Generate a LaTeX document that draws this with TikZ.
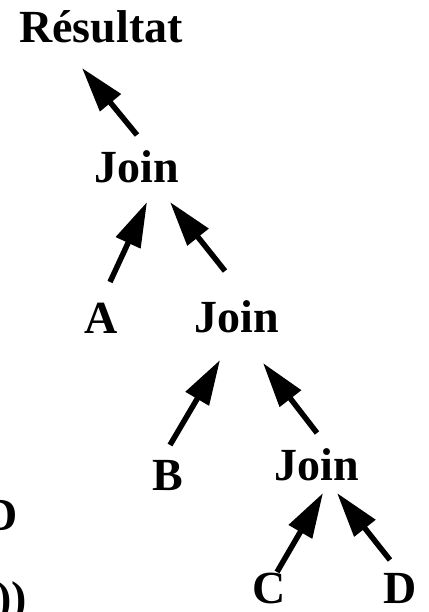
\documentclass[tikz,border=0pt]{standalone}
\usepackage{fontspec}
\setmainfont{Liberation Serif}
\usetikzlibrary{arrows.meta}

\begin{document}
\begin{tikzpicture}[x=1pt,y=-1pt,term/.style={inner sep=0pt,anchor=base,font=\fontsize{46}{54}\selectfont\bfseries},flow/.style={line width=5.5pt,-{Triangle[length=45pt,width=26pt]}}]
\useasboundingbox[fill=white] (0,0) rectangle (428,612);
\node[term] (res) at (101,43) {Résultat};
\node[term] (join1) at (136.5,183) {Join};
\node[term] (A) at (101,333) {A};
\node[term] (join2) at (236.5,332) {Join};
\node[term] (B) at (167.5,490) {B};
\node[term] (join3) at (316.5,480) {Join};
\node[term] (C) at (269,603) {C};
\node[term] (D) at (400,603) {D};
\node[term,anchor=base east] (cutD) at (18,530) {D};
\node[term,anchor=base east] (cutpar) at (27,613) {))};
\draw[flow] ([shift={(0.5,-48)}]join1.base) -- ([shift={(-19,25)}]res.base);
\draw[flow] ([shift={(9,-51)}]A.base) -- ([shift={(10.5,19)}]join1.base);
\draw[flow] ([shift={(-11.5,-61)}]join2.base) -- ([shift={(33.5,19)}]join1.base);
\draw[flow] ([shift={(2.5,-45)}]B.base) -- ([shift={(-16.5,28)}]join2.base);
\draw[flow] ([shift={(0.5,-47)}]join3.base) -- ([shift={(26.5,31)}]join2.base);
\draw[flow] ([shift={(8,-31)}]C.base) -- ([shift={(6.5,13)}]join3.base);
\draw[flow] ([shift={(-10,-43)}]D.base) -- ([shift={(20.5,13)}]join3.base);
\end{tikzpicture}
\end{document}
